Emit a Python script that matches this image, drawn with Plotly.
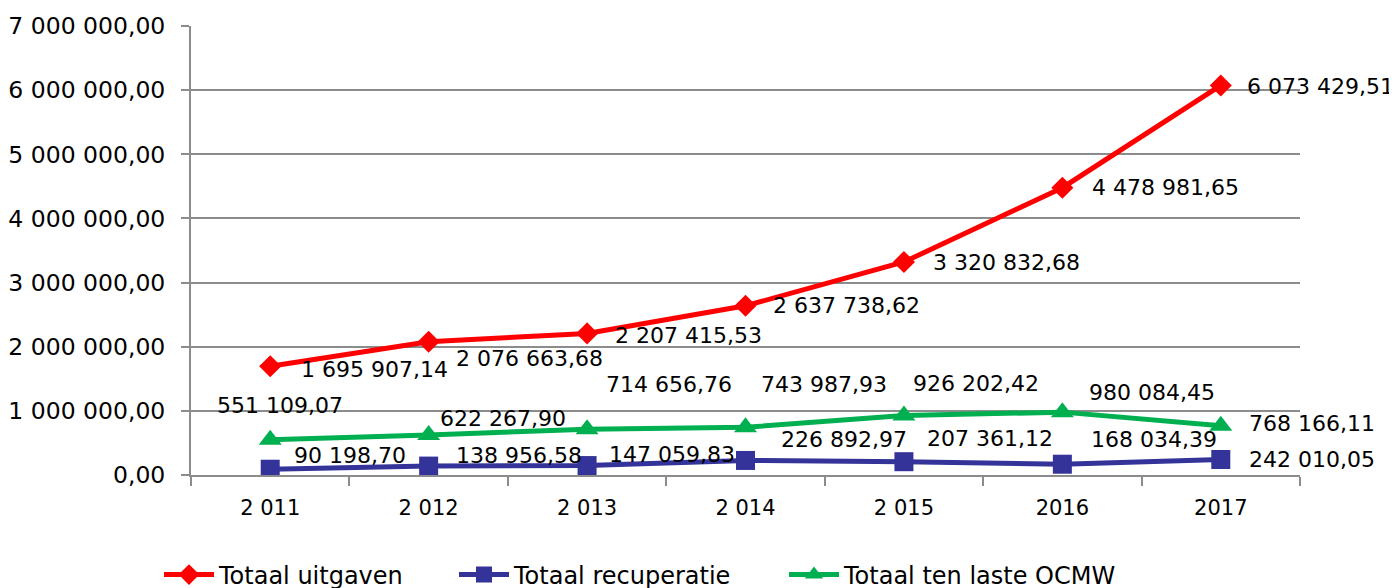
import plotly.graph_objects as go

years = ["2 011", "2 012", "2 013", "2 014", "2 015", "2016", "2017"]
uitgaven = [1695907.14, 2076663.68, 2207415.53, 2637738.62, 3320832.68, 4478981.65, 6073429.51]
recuperatie = [90198.70, 138956.58, 147059.83, 226892.97, 207361.12, 168034.39, 242010.05]
ten_laste = [551109.07, 622267.90, 714656.76, 743987.93, 926202.42, 980084.45, 768166.11]

RED = "#FF0000"
BLUE = "#333399"
GREEN = "#00B050"
GRID = "#8C8C8C"
FONT = "DejaVu Sans"


def fmt(v):
    return f"{v:,.2f}".replace(",", " ").replace(".", ",")


fig = go.Figure()
fig.add_trace(go.Scatter(x=years, y=uitgaven, name="Totaal uitgaven", mode="lines+markers",
                         line=dict(color=RED, width=5), legend="legend",
                         marker=dict(symbol="diamond", size=17, color=RED)))
fig.add_trace(go.Scatter(x=years, y=recuperatie, name="Totaal recuperatie", mode="lines+markers",
                         line=dict(color=BLUE, width=5), legend="legend2",
                         marker=dict(symbol="square", size=19, color=BLUE)))
fig.add_trace(go.Scatter(x=years, y=ten_laste, name="Totaal ten laste OCMW", mode="lines+markers",
                         line=dict(color=GREEN, width=5), legend="legend3",
                         marker=dict(symbol="triangle-up", size=20, color=GREEN)))

# label offsets in screen pixels (dx right, dy down)
red_off = [(29, 3), (25, 17), (26, 2), (25, 0), (27, 1), (28, 0), (24, 1)]
blue_off = [(22, -14), (25, -11), (20, -11), (33, -21), (21, -23), (27, -25), (26, 0)]
green_off = [(10, -34), (74, -17), (82, -45), (78, -43), (72, -32), (90, -20), (26, -2)]

annotations = []
for i in range(len(years)):
    for vals, offs, anchor in ((uitgaven, red_off, "left"), (recuperatie, blue_off, "left"),
                               (ten_laste, green_off, "center")):
        dx, dy = offs[i]
        xa = anchor
        if vals is ten_laste and i == len(years) - 1:
            xa = "left"
        annotations.append(dict(x=i, y=vals[i], xref="x", yref="y", text=fmt(vals[i]),
                                showarrow=False, xanchor=xa, yanchor="middle",
                                xshift=dx, yshift=-dy,
                                font=dict(family=FONT, size=22, color="black")))

leg_common = dict(orientation="h", xref="container", yref="container", xanchor="left",
                  yanchor="middle", y=1 - 567 / 588, itemwidth=50, bgcolor="rgba(0,0,0,0)",
                  font=dict(family=FONT, size=24, color="black"))

fig.update_layout(
    width=1397, height=588,
    margin=dict(l=183, r=105, t=18, b=121, autoexpand=False),
    plot_bgcolor="white", paper_bgcolor="white",
    separators=", ",
    font=dict(family=FONT, size=22, color="black"),
    showlegend=True,
    legend=dict(x=151 / 1397, **leg_common),
    legend2=dict(x=446 / 1397, **leg_common),
    legend3=dict(x=776 / 1397, **leg_common),
    annotations=annotations,
)
fig.update_xaxes(type="category", range=[-0.5, 6.5], showgrid=False, automargin=False,
                 showline=True, linecolor=GRID, linewidth=2,
                 ticks="outside", tickson="boundaries", ticklen=9, tickcolor=GRID, tickwidth=2,
                 tickfont=dict(family=FONT, size=21, color="black"), ticklabelstandoff=13)
fig.update_yaxes(range=[0, 7000000], dtick=1000000, tickformat=",.2f", automargin=False,
                 showgrid=True, gridcolor=GRID, gridwidth=2,
                 showline=True, linecolor=GRID, linewidth=2, zeroline=False,
                 ticks="outside", ticklen=8, tickcolor=GRID, tickwidth=2,
                 tickfont=dict(family=FONT, size=23.5, color="black"), ticklabelstandoff=11)

fig.write_html("out.html")
